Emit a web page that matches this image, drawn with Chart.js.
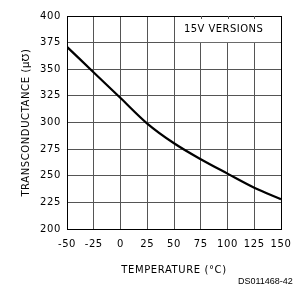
<!DOCTYPE html>
<html><head><meta charset="utf-8">
<script src="https://cdn.jsdelivr.net/npm/chart.js@4/dist/chart.umd.min.js"></script>
<style>
html,body{margin:0;padding:0;background:#fff;}
#wrap{position:relative;width:294px;height:289px;}
canvas{position:absolute;left:0;top:0;}
.note{position:absolute;font-family:"DejaVu Sans";color:#000;white-space:nowrap;}
</style></head><body>
<div id="wrap">
<canvas id="c" width="294" height="289"></canvas>
<div class="note" id="ver" style="left:184px;top:23px;font-size:10px;letter-spacing:0.45px;">15V VERSIONS</div>
<div class="note" style="left:238px;top:276px;font-family:'Liberation Sans';font-size:9px;">DS011468-42</div>
</div>
<script>
const temperatures = [-50, -25, 0, 25, 50, 75, 100, 125, 150];
const transconductance = [371, 347, 323, 299, 280.5, 265.5, 252, 238.8, 228];
const xTicks = [-50, -25, 0, 25, 50, 75, 100, 125, 150];
const yTicks = [200, 225, 250, 275, 300, 325, 350, 375, 400];

const font = {family: 'DejaVu Sans', size: 10};
const spacingPlugin = {
  id: 'spacing',
  beforeDraw(chart) { chart.ctx.letterSpacing = '0.6px'; }
};
const boxPlugin = {
  id: 'box',
  beforeDatasetsDraw(chart) {
    const {ctx, scales: {x, y}} = chart;
    const l = x.getPixelForValue(50), r = x.getPixelForValue(150);
    const t = y.getPixelForValue(400), b = y.getPixelForValue(375);
    ctx.save();
    ctx.fillStyle = '#fff';
    ctx.fillRect(l + 1, t + 1, r - l - 2, b - t - 1.5);
    ctx.strokeStyle = '#555';
    ctx.lineWidth = 1;
    [75, 100, 125].forEach(v => {
      const px = Math.round(x.getPixelForValue(v)) + 0.5;
      ctx.beginPath(); ctx.moveTo(px, t); ctx.lineTo(px, t + 3); ctx.stroke();
    });
    ctx.restore();
  }
};

new Chart(document.getElementById('c'), {
  type: 'line',
  data: {
    datasets: [{
      data: temperatures.map((t, i) => ({x: t, y: transconductance[i]})),
      borderColor: '#000',
      borderWidth: 2.2,
      pointRadius: 0,
      tension: 0.4,
      cubicInterpolationMode: 'monotone',
      fill: false
    }]
  },
  options: {
    responsive: false,
    animation: false,
    devicePixelRatio: 1,
    layout: {padding: {top: 16, right: 13, left: 0, bottom: 0}},
    plugins: {legend: {display: false}, tooltip: {enabled: false}},
    scales: {
      x: {
        type: 'linear', min: -50, max: 150,
        afterBuildTicks: s => { s.ticks = xTicks.map(v => ({value: v})); },
        afterFit: s => { s.height = 60; s.paddingLeft = 0; s.paddingRight = 0; },
        ticks: {font, color: '#000', padding: 9, maxRotation: 0, autoSkip: false},
        grid: {drawTicks: false, color: c => (c.tick && c.tick.value === 150) ? '#000' : '#555', lineWidth: 1},
        border: {color: '#000', width: 1},
        title: {display: true, text: 'TEMPERATURE (°C)', font, color: '#000', padding: {top: 0, bottom: 13}}
      },
      y: {
        min: 200, max: 400,
        afterBuildTicks: s => { s.ticks = yTicks.map(v => ({value: v})); },
        afterFit: s => { s.width = 67; s.paddingTop = 0; s.paddingBottom = 0; },
        ticks: {font, color: '#000', padding: 6, autoSkip: false},
        grid: {drawTicks: false, color: c => (c.tick && c.tick.value === 400) ? '#000' : '#555', lineWidth: 1},
        border: {color: '#000', width: 1},
        title: {display: true, text: 'TRANSCONDUCTANCE (µ℧)', font, color: '#000', padding: {top: 20, bottom: 0}}
      }
    }
  },
  plugins: [spacingPlugin, boxPlugin]
});
</script>
</body></html>
